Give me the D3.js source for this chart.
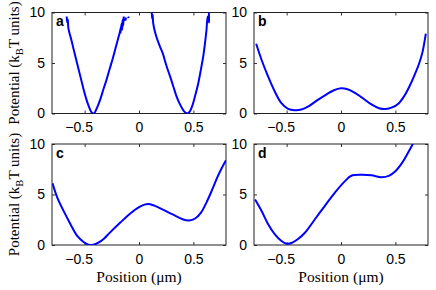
<!DOCTYPE html>
<html><head><meta charset="utf-8">
<script src="https://cdn.jsdelivr.net/npm/d3@7"></script>
<style>body{margin:0;background:#fff}</style>
</head><body><svg id="c" width="436" height="290"></svg>
<script>
const xTicks=[-0.5,0,0.5];
const yTicks=[0,5,10];
const xDomain=[-0.8,0.8];
const yDomain=[0,10];
const panelLabels=["a","b","c","d"];
const yLabelMain="Potential (k";
const yLabelSub="B";
const yLabelEnd="T units)";
const xLabel="Position (\u03bcm)";

// panel a: two separated wells (null = gap)
const seriesA=[[-0.665,9.6],[-0.66,9.0],[-0.655,9.3],[-0.65,8.5],[-0.64,8.0],[-0.62,7.2],[-0.60,6.3],[-0.57,5.0],[-0.54,3.7],[-0.51,2.4],[-0.485,1.45],[-0.465,0.8],[-0.448,0.35],[-0.435,0.1],[-0.423,0.0],[-0.41,0.06],[-0.395,0.35],[-0.375,0.85],[-0.35,1.6],[-0.33,2.3],[-0.30,3.3],[-0.27,4.4],[-0.24,5.5],[-0.215,6.5],[-0.19,7.5],[-0.175,8.1],[-0.165,8.6],[-0.17,8.0],[-0.16,8.9],[-0.155,8.3],[-0.15,9.3],[-0.145,8.7],[-0.14,9.6],
 null,[-0.125,9.2],[-0.12,9.5],null,[-0.10,9.6],[-0.095,9.45],null,
 [0.115,10.5],[0.12,9.4],[0.125,9.8],[0.13,9.0],[0.14,8.4],[0.16,7.6],[0.19,6.7],[0.22,5.9],[0.25,4.8],[0.285,3.7],[0.315,2.7],[0.345,1.7],[0.375,0.95],[0.4,0.45],[0.42,0.15],[0.44,0.03],[0.455,0.06],[0.47,0.25],[0.49,0.75],[0.515,1.7],[0.545,3.0],[0.57,4.4],[0.59,5.6],[0.605,6.8],[0.62,8.2],[0.632,9.6],[0.645,9.0],[0.64,10.5]];
const seriesB=[[-0.78,6.9],[-0.73,5.3],[-0.67,3.66],[-0.61,2.2],[-0.55,1.05],[-0.486,0.46],[-0.425,0.33],[-0.364,0.39],[-0.30,0.7],[-0.22,1.3],[-0.14,1.85],[-0.07,2.28],[0,2.5],[0.06,2.4],[0.12,2.1],[0.19,1.6],[0.28,0.9],[0.35,0.52],[0.41,0.44],[0.47,0.6],[0.53,1.0],[0.58,1.7],[0.63,2.7],[0.676,3.8],[0.72,5.0],[0.75,6.1],[0.78,7.9]];
const seriesC=[[-0.795,6.1],[-0.755,4.8],[-0.69,3.3],[-0.63,2.06],[-0.57,0.92],[-0.51,0.3],[-0.465,0.04],[-0.42,0.03],[-0.37,0.25],[-0.32,0.65],[-0.27,1.2],[-0.174,2.2],[-0.083,3.1],[0.0,3.75],[0.05,4.0],[0.09,4.05],[0.14,3.9],[0.22,3.5],[0.315,3.0],[0.4,2.55],[0.46,2.42],[0.52,2.65],[0.57,3.2],[0.62,4.2],[0.67,5.4],[0.72,6.7],[0.76,7.6],[0.8,8.4]];
const seriesD=[[-0.79,4.5],[-0.73,3.36],[-0.67,2.06],[-0.61,1.08],[-0.55,0.42],[-0.50,0.12],[-0.455,0.2],[-0.395,0.59],[-0.33,1.24],[-0.24,2.55],[-0.15,3.85],[-0.058,5.16],[0.034,6.3],[0.095,6.86],[0.19,6.96],[0.28,6.9],[0.37,6.72],[0.44,6.85],[0.5,7.3],[0.56,8.1],[0.62,9.2],[0.68,10.4]];
const allSeries=[seriesA,seriesB,seriesC,seriesD];

const svg=d3.select("#c");
const W=174,H=101;
const origins=[[52,12.5],[254,12.5],[52,144],[254,144]];

origins.forEach(([ox,oy],i)=>{
  const x=d3.scaleLinear().domain(xDomain).range([ox,ox+W]);
  const y=d3.scaleLinear().domain(yDomain).range([oy+H,oy]);
  const clipId="clip"+i;
  svg.append("clipPath").attr("id",clipId).append("rect")
    .attr("x",ox).attr("y",oy).attr("width",W).attr("height",H);
  const fmt=d=>d<0?"\u2212"+Math.abs(d):String(d);
  const bottom=svg.append("g").attr("transform",`translate(0,${oy+H})`)
    .call(d3.axisBottom(x).tickValues(xTicks).tickSize(-3).tickPadding(9).tickFormat(fmt));
  const top=svg.append("g").attr("transform",`translate(0,${oy})`)
    .call(d3.axisTop(x).tickValues(xTicks).tickSize(-3).tickFormat(""));
  const left=svg.append("g").attr("transform",`translate(${ox},0)`)
    .call(d3.axisLeft(y).tickValues(yTicks).tickSize(-3).tickPadding(7));
  const right=svg.append("g").attr("transform",`translate(${ox+W},0)`)
    .call(d3.axisRight(y).tickValues(yTicks).tickSize(-3).tickFormat(""));
  [bottom,top,left,right].forEach(g=>{
    g.select(".domain").remove();
    g.selectAll("line").attr("stroke","#333").attr("stroke-width",1);
    g.selectAll("text").attr("font-family","Liberation Sans, Arial, sans-serif")
      .attr("font-size",14).attr("fill","#000");
  });
  bottom.selectAll("text").attr("dx",d=>d<0?-6:0);
  svg.append("rect").attr("x",ox).attr("y",oy).attr("width",W).attr("height",H)
    .attr("fill","none").attr("stroke","#222").attr("stroke-width",1);
  const line=d3.line().defined(d=>d!==null).x(d=>x(d[0])).y(d=>y(d[1]))
    .curve(d3.curveCatmullRom.alpha(0.5));
  svg.append("path").datum(allSeries[i]).attr("clip-path",`url(#${clipId})`)
    .attr("d",line).attr("fill","none").attr("stroke","#0000ff")
    .attr("stroke-width",2).attr("stroke-linejoin","round");
  svg.append("text").attr("x",ox+4).attr("y",oy+13.5).text(panelLabels[i])
    .attr("font-family","Liberation Sans, Arial, sans-serif").attr("font-weight","bold")
    .attr("font-size",14).attr("fill","#000");
  if(i%2===0){
    const t=svg.append("text").attr("transform",`translate(19,${oy+H/2}) rotate(-90)`)
      .attr("text-anchor","middle").attr("font-family","Liberation Serif, Times New Roman, serif")
      .attr("font-size",15).attr("fill","#000");
    t.append("tspan").text(yLabelMain);
    t.append("tspan").text(yLabelSub).attr("font-size",10.5).attr("dy",4);
    t.append("tspan").text(yLabelEnd).attr("dy",-4);
  }
  if(i>=2){
    svg.append("text").attr("x",ox+W/2).attr("y",282).attr("text-anchor","middle")
      .attr("font-family","Liberation Serif, Times New Roman, serif").attr("font-size",15.5)
      .attr("fill","#000").text(xLabel);
  }
});
</script></body></html>
